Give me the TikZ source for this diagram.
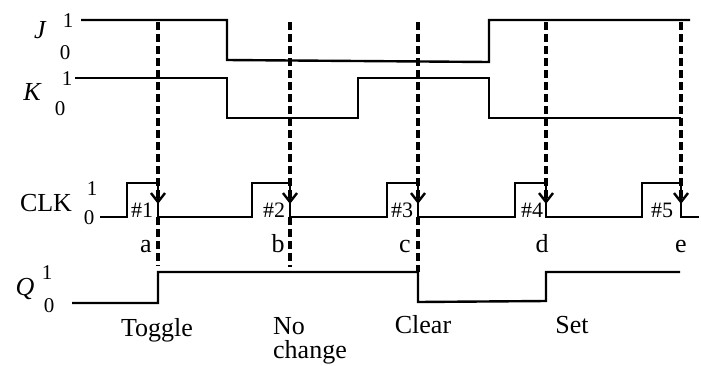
\documentclass[tikz,border=0pt]{standalone}
\usepackage{fontspec}
\setmainfont{Liberation Serif}
\usetikzlibrary{arrows.meta}
\tikzset{
  wave/.style={line width=2.4pt, line join=miter},
  guide/.style={line width=3.2pt, dash pattern=on 8pt off 4pt},
  guidearrow/.style={guide, -{Straight Barb[length=9pt,width=14pt,line width=2.4pt]}},
  lbl/.style={inner sep=0pt, anchor=base, font=\fontsize{26}{28}\selectfont},
  lvl/.style={inner sep=0pt, anchor=base, font=\fontsize{21}{22}\selectfont},
  num/.style={inner sep=0pt, anchor=base, font=\fontsize{22}{22}\selectfont},
  sig/.style={inner sep=0pt, anchor=base, font=\fontsize{26}{28}\selectfont\itshape}
}
\begin{document}
\begin{tikzpicture}[x=1pt,y=-1pt]
\useasboundingbox (0,0) rectangle (701,365);
% labels
\node[sig] (J) at (40,38) {J};
\node[lvl] (J1) at (68,27) {1};
\node[lvl] (J0) at (65,59) {0};
\node[sig] (K) at (32,100) {K};
\node[lvl] (K1) at (67,85) {1};
\node[lvl] (K0) at (60,115) {0};
\node[lbl] (CLK) at (46,211) {CLK};
\node[lvl] (C1) at (92,195) {1};
\node[lvl] (C0) at (89,224) {0};
\node[sig] (Q) at (25,295) {Q};
\node[lvl] (Q1) at (47,279) {1};
\node[lvl] (Q0) at (49,312) {0};
% waveforms
\draw[wave] (81,20) -- (227,20) -- (227,60) -- (489,62) -- (489,20) -- (690,20);
\draw[wave] (75,78) -- (227,78) -- (227,118) -- (358,118) -- (358,78) -- (489,78) -- (489,118) -- (681,118);
\draw[wave] (100,217) -- (127,217) -- (127,183) -- (158,183) -- (158,217)
  -- (252,217) -- (252,183) -- (290,183) -- (290,217)
  -- (387,217) -- (387,183) -- (418,183) -- (418,217)
  -- (515,217) -- (515,183) -- (546,183) -- (546,217)
  -- (642,217) -- (642,183) -- (681,183) -- (681,217) -- (699,217);
\draw[wave] (72,303) -- (158,303) -- (158,272) -- (418,272) -- (418,302) -- (546,301) -- (546,272) -- (680,272);
% clock edge guides
\foreach \n/\x in {a/158,b/290,c/418,d/546,e/681}{
  \coordinate (top\n) at (\x,22);
  \coordinate (edge\n) at (\x,204);
  \draw[guidearrow] (top\n) -- (edge\n);
}
\coordinate (lowa) at (158,217); \coordinate (enda) at (158,266);
\coordinate (lowb) at (290,217); \coordinate (endb) at (290,267);
\coordinate (lowc) at (418,217); \coordinate (endc) at (418,272);
\draw[guide] (lowa) -- (enda);
\draw[guide] (lowb) -- (endb);
\draw[guide] (lowc) -- (endc);
% pulse numbers
\node[num] (n1) at (142,217) {\#1};
\node[num] (n2) at (274,217) {\#2};
\node[num] (n3) at (402,217) {\#3};
\node[num] (n4) at (532,217) {\#4};
\node[num] (n5) at (662,217) {\#5};
% edge letters
\node[lbl] (la) at (146,252) {a};
\node[lbl] (lb) at (278,252) {b};
\node[lbl] (lc) at (405,252) {c};
\node[lbl] (ld) at (542,252) {d};
\node[lbl] (le) at (681,252) {e};
% actions
\node[lbl] (toggle) at (157,336) {Toggle};
\node[inner sep=0pt, anchor=north west, align=left, font=\fontsize{26}{24}\selectfont] (nochange) at (273,317) {No\\change};
\node[lbl] (clear) at (423,333) {Clear};
\node[lbl] (set) at (572,333) {Set};
\end{tikzpicture}
\end{document}
